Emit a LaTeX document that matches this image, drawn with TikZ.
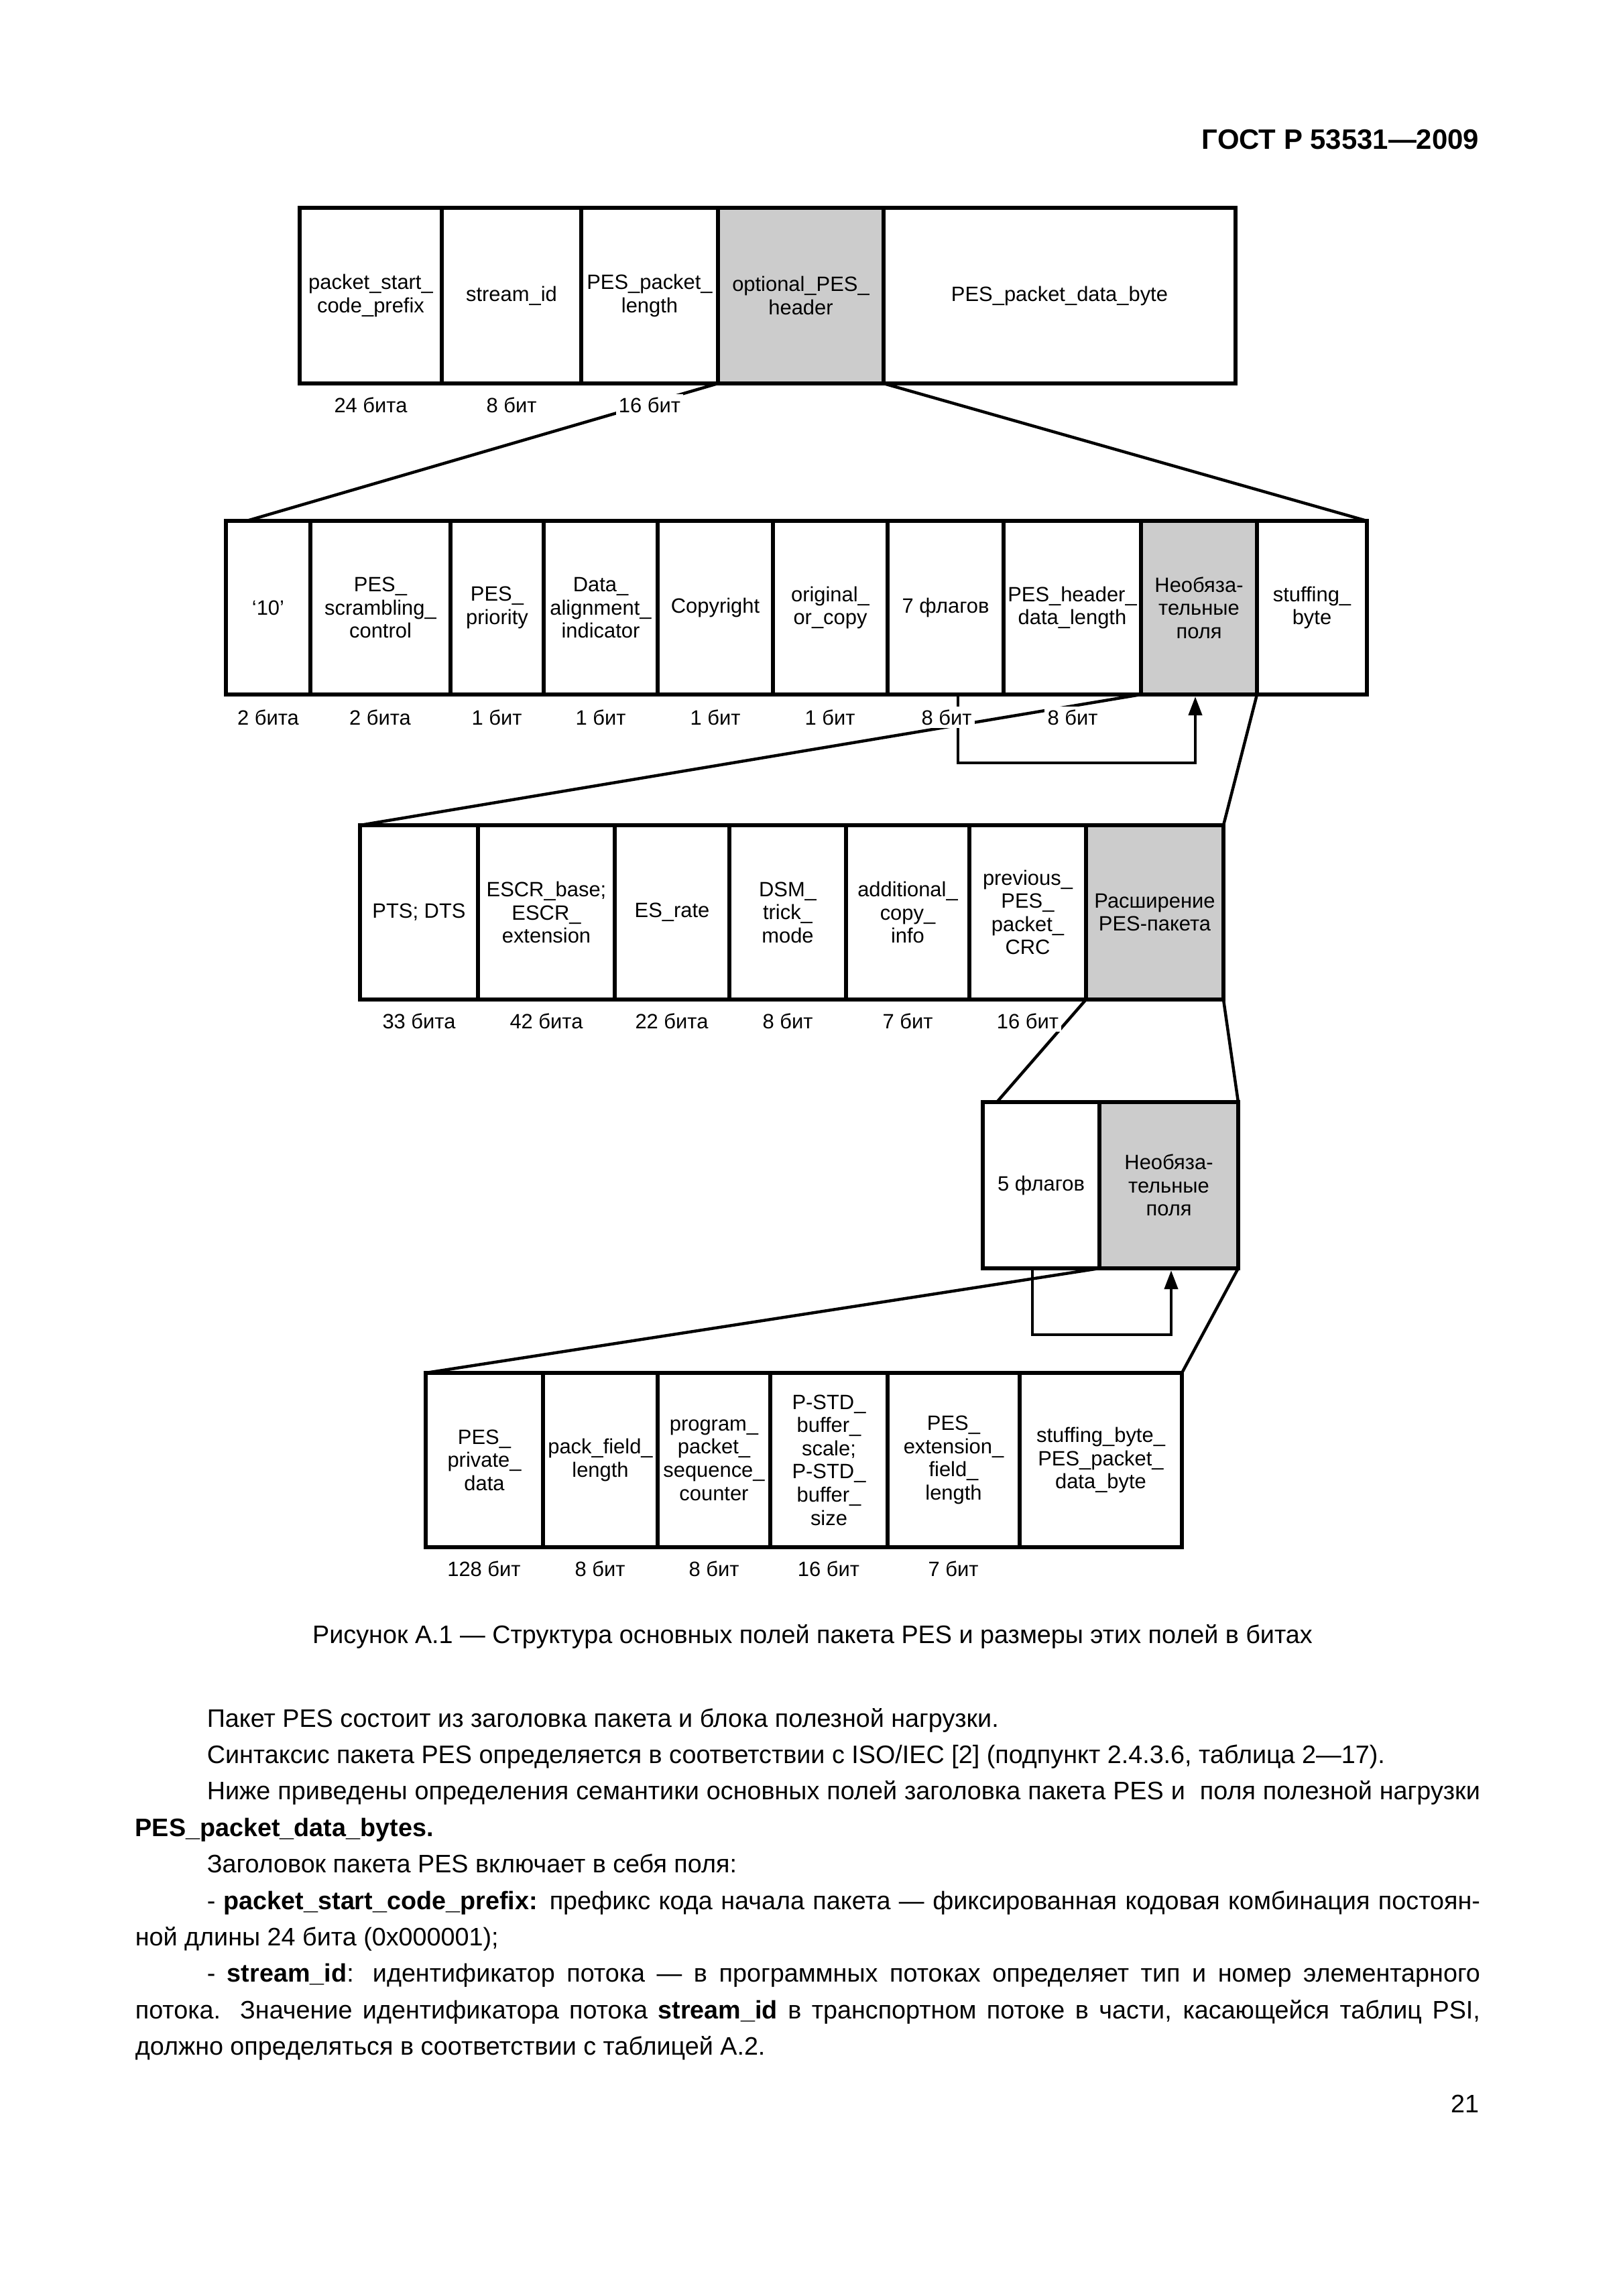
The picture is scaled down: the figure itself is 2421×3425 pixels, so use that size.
\documentclass[tikz,border=0pt]{standalone}
\usepackage{fontspec}
\setmainfont{Liberation Sans}
\usetikzlibrary{arrows.meta}
\definecolor{fieldgray}{RGB}{204,204,204}
\newcommand\diagfont{\fontsize{7.6pt}{8.5pt}\selectfont}
\newcommand\bodyfont{\fontsize{9.28pt}{11pt}\selectfont}
\newcommand\mkcell[7]{\node[cellbox,#6,minimum width={(#3-#2)*0.2459pt},minimum height={(#5-#4)*0.2459pt}] (#1) at ({(#2+#3)/2},{(#4+#5)/2}) {#7};}
\tikzset{
  cellbox/.style={draw, line width=1.25pt, inner sep=0pt, outer sep=0pt, align=center, font=\diagfont},
  optfield/.style={fill=fieldgray},
  whitefield/.style={fill=white},
  bits/.style={fill=white, inner sep=1pt, font=\diagfont},
  conn/.style={line width=1.1pt},
  loopline/.style={line width=1.1pt, -{Triangle[width=4.9pt,length=6.9pt]}},
  bodyline/.style={anchor=base west, inner sep=0pt, font=\bodyfont},
}
\begin{document}
\begin{tikzpicture}[x=0.2459pt, y=-0.2459pt]
\useasboundingbox (0,0) rectangle (2421,3425);

% header
\node[anchor=base east, inner sep=0pt, font=\fontsize{10.3pt}{12pt}\selectfont\bfseries] (hdr) at (2207,222) {ГОСТ Р 53531—2009};

% row 1
\mkcell{a1}{447}{659}{310}{572}{whitefield}{packet\_start\_\\code\_prefix}
\mkcell{a2}{659}{867}{310}{572}{whitefield}{stream\_id}
\mkcell{a3}{867}{1071}{310}{572}{whitefield}{PES\_packet\_\\length}
\mkcell{a4}{1071}{1318}{310}{572}{optfield}{optional\_PES\_\\header}
\mkcell{a5}{1318}{1843}{310}{572}{whitefield}{PES\_packet\_data\_byte}

% row 2
\mkcell{b1}{337}{463}{777}{1036}{whitefield}{‘10’}
\mkcell{b2}{463}{672}{777}{1036}{whitefield}{PES\_\\scrambling\_\\control}
\mkcell{b3}{672}{811}{777}{1036}{whitefield}{PES\_\\priority}
\mkcell{b4}{811}{981}{777}{1036}{whitefield}{Data\_\\alignment\_\\indicator}
\mkcell{b5}{981}{1153}{777}{1036}{whitefield}{Copyright}
\mkcell{b6}{1153}{1324}{777}{1036}{whitefield}{original\_\\or\_copy}
\mkcell{b7}{1324}{1497}{777}{1036}{whitefield}{7 флагов}
\mkcell{b8}{1497}{1702}{777}{1036}{whitefield}{PES\_header\_\\data\_length}
\mkcell{b9}{1702}{1875}{777}{1036}{optfield}{Необяза-\\тельные\\поля}
\mkcell{b10}{1875}{2039}{777}{1036}{whitefield}{stuffing\_\\byte}

% row 3
\mkcell{c1}{537}{713}{1231}{1491}{whitefield}{PTS; DTS}
\mkcell{c2}{713}{917}{1231}{1491}{whitefield}{ESCR\_base;\\ESCR\_\\extension}
\mkcell{c3}{917}{1088}{1231}{1491}{whitefield}{ES\_rate}
\mkcell{c4}{1088}{1262}{1231}{1491}{whitefield}{DSM\_\\trick\_\\mode}
\mkcell{c5}{1262}{1446}{1231}{1491}{whitefield}{additional\_\\copy\_\\info}
\mkcell{c6}{1446}{1620}{1231}{1491}{whitefield}{previous\_\\PES\_\\packet\_\\CRC}
\mkcell{c7}{1620}{1825}{1231}{1491}{optfield}{Расширение\\PES-пакета}

% row 4
\mkcell{d1}{1466}{1640}{1644}{1892}{whitefield}{5 флагов}
\mkcell{d2}{1640}{1847}{1644}{1892}{optfield}{Необяза-\\тельные\\поля}

% row 5
\mkcell{e1}{635}{810}{2048}{2308}{whitefield}{PES\_\\private\_\\data}
\mkcell{e2}{810}{981}{2048}{2308}{whitefield}{pack\_field\_\\length}
\mkcell{e3}{981}{1149}{2048}{2308}{whitefield}{program\_\\packet\_\\sequence\_\\counter}
\mkcell{e4}{1149}{1324}{2048}{2308}{whitefield}{P-STD\_\\buffer\_\\scale;\\P-STD\_\\buffer\_\\size}
\mkcell{e5}{1324}{1521}{2048}{2308}{whitefield}{PES\_\\extension\_\\field\_\\length}
\mkcell{e6}{1521}{1763}{2048}{2308}{whitefield}{stuffing\_byte\_\\PES\_packet\_\\data\_byte}

% connectors
\coordinate (b1in) at (368,777);
\coordinate (d1in) at (1487,1644);
\draw[conn] (a4.south west) -- (b1in);
\draw[conn] (a4.south east) -- (b10.north east);
\draw[conn] (b9.south west) -- (c1.north west);
\draw[conn] (b9.south east) -- (c7.north east);
\draw[conn] (c7.south west) -- (d1in);
\draw[conn] (c7.south east) -- (d2.north east);
\draw[conn] (d2.south west) -- (e1.north west);
\draw[conn] (d2.south east) -- (e6.north east);

% loops
\coordinate (l1s) at (1429,1036);
\coordinate (l1b) at (1600,1138);
\coordinate (l1e) at (1783,1039);
\draw[loopline] (l1s) |- (l1b) -| (l1e);
\coordinate (l2s) at (1540,1892);
\coordinate (l2b) at (1640,1991);
\coordinate (l2e) at (1747,1895);
\draw[loopline] (l2s) |- (l2b) -| (l2e);

% bit labels
\node[bits] (ta1) at (553,604) {24 бита};
\node[bits] (ta2) at (763,604) {8 бит};
\node[bits] (ta3) at (969,604) {16 бит};

\node[bits] (tb1) at (400,1070) {2 бита};
\node[bits] (tb2) at (567,1070) {2 бита};
\node[bits] (tb3) at (741,1070) {1 бит};
\node[bits] (tb4) at (896,1070) {1 бит};
\node[bits] (tb5) at (1067,1070) {1 бит};
\node[bits] (tb6) at (1238,1070) {1 бит};
\node[bits] (tb7) at (1412,1070) {8 бит};
\node[bits] (tb8) at (1600,1070) {8 бит};

\node[bits] (tc1) at (625,1523) {33 бита};
\node[bits] (tc2) at (815,1523) {42 бита};
\node[bits] (tc3) at (1002,1523) {22 бита};
\node[bits] (tc4) at (1175,1523) {8 бит};
\node[bits] (tc5) at (1354,1523) {7 бит};
\node[bits] (tc6) at (1533,1523) {16 бит};

\node[bits] (te1) at (722,2340) {128 бит};
\node[bits] (te2) at (895,2340) {8 бит};
\node[bits] (te3) at (1065,2340) {8 бит};
\node[bits] (te4) at (1236,2340) {16 бит};
\node[bits] (te5) at (1422,2340) {7 бит};

% caption
\node[anchor=base, inner sep=0pt, font=\bodyfont] (cap) at (1212,2451) {Рисунок А.1 — Структура основных полей пакета PES и размеры этих полей в битах};

% body text
\node[bodyline] (p1) at (308,2576) {Пакет PES состоит из заголовка пакета и блока полезной нагрузки.};
\node[bodyline] (p2) at (308,2630.4) {Синтаксис пакета PES определяется в соответствии с ISO/IEC [2] (подпункт 2.4.3.6, таблица 2—17).};
\node[bodyline] (p3) at (308,2684.8) {\makebox[466.97pt][s]{Ниже приведены определения семантики основных полей заголовка пакета PES и\ \ поля полезной нагрузки}};
\node[bodyline] (p4) at (201,2739.2) {\bfseries PES\_packet\_data\_bytes.};
\node[bodyline] (p5) at (308,2793.6) {Заголовок пакета PES включает в себя поля:};
\node[bodyline] (p6) at (308,2848) {\makebox[466.97pt][s]{- \textbf{packet\_start\_code\_prefix:} префикс кода начала пакета — фиксированная кодовая комбинация постоян-}};
\node[bodyline] (p7) at (201,2902.4) {ной длины 24 бита (0x000001);};
\node[bodyline] (p8) at (308,2956.8) {\makebox[466.97pt][s]{- \textbf{stream\_id}: идентификатор потока — в программных потоках определяет тип и номер элементарного}};
\node[bodyline] (p9) at (201,3011.2) {\makebox[493.28pt][s]{потока. Значение идентификатора потока \textbf{stream\_id} в транспортном потоке в части, касающейся таблиц PSI,}};
\node[bodyline] (p10) at (201,3065.6) {должно определяться в соответствии с таблицей А.2.};

% page number
\node[anchor=base east, inner sep=0pt, font=\bodyfont] (pg) at (2207,3151) {21};
\end{tikzpicture}
\end{document}
